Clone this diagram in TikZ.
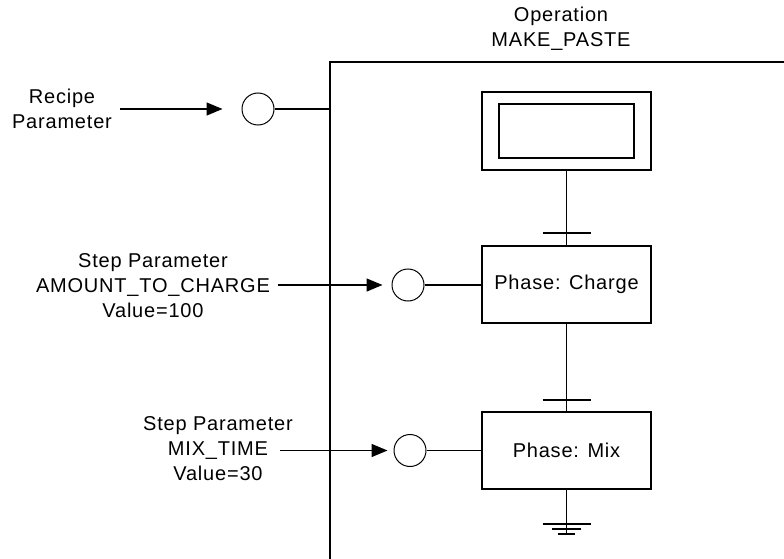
\documentclass[tikz,border=0pt]{standalone}
\usepackage{fontspec}
\setmainfont{Liberation Sans}[LetterSpace=4]
\usetikzlibrary{arrows.meta}
\begin{document}
\begin{tikzpicture}[x=1pt,y=-1pt,
  line width=1.4pt,
  lbl/.style={align=center,inner sep=0pt,font=\fontsize{20}{25}\selectfont},
  param/.style={draw,circle,minimum size=32pt,inner sep=0pt,line width=1pt},
  stepbox/.style={draw,rectangle,minimum width=169pt,minimum height=77pt,inner sep=0pt,font=\fontsize{20}{25}\selectfont},
  arr/.style={-{Triangle[length=16pt,width=13pt]}}
]
\useasboundingbox (0,0) rectangle (784,559);
% operation frame
\coordinate (fl) at (330,62);
\coordinate (fb) at (330,559);
\coordinate (fr) at (784,62);
\draw (fb) -- (fl) -- (fr);
\node[lbl] (op) at (561,29) {Operation\\MAKE\_PASTE};
% initial step
\node[stepbox,minimum height=78pt] (init) at (566.5,131) {};
\node[draw,rectangle,minimum width=135pt,minimum height=54pt,inner sep=0pt] (initin) at (566.5,131) {};
\node[stepbox] (charge) at (566.5,284.5) {Phase: Charge};
\node[stepbox] (mix) at (566.5,450.5) {Phase: Mix};
\draw (init.south) -- (charge.north);
\draw (charge.south) -- (mix.north);
\coordinate (t1) at (566.5,233);
\coordinate (t2) at (566.5,400);
\draw (t1) ++(-24,0) -- ++(48,0);
\draw (t2) ++(-24,0) -- ++(48,0);
% ground
\coordinate (g) at (566.5,535);
\draw (mix.south) -- (g);
\draw (566.5,524) ++(-24,0) -- ++(48,0);
\draw (566.5,529) ++(-14.5,0) -- ++(29,0);
\draw (566.5,534) ++(-8.5,0) -- ++(17,0);
% recipe parameter
\node[lbl] (rl) at (62,109) {Recipe\\Parameter};
\node[param] (rc) at (258,109) {};
\coordinate (ra) at (120,109);
\draw[arr,shorten >=19pt] (ra) -- (rc.west);
\draw (rc.east) -- (rc.east -| fl);
% amount to charge
\node[lbl] (cl) at (153,286) {Step Parameter\\AMOUNT\_TO\_CHARGE\\Value=100};
\node[param] (cc) at (408,285) {};
\coordinate (ca) at (278,285);
\draw[arr,shorten >=9pt] (ca) -- (cc.west);
\draw (cc.east) -- (cc.east -| charge.west);
% mix time
\node[lbl] (ml) at (218,449) {Step Parameter\\MIX\_TIME\\Value=30};
\node[param] (mc) at (410,450.5) {};
\coordinate (ma) at (280,450.5);
\draw[arr,shorten >=6pt] (ma) -- (mc.west);
\draw (mc.east) -- (mc.east -| mix.west);
\end{tikzpicture}
\end{document}
